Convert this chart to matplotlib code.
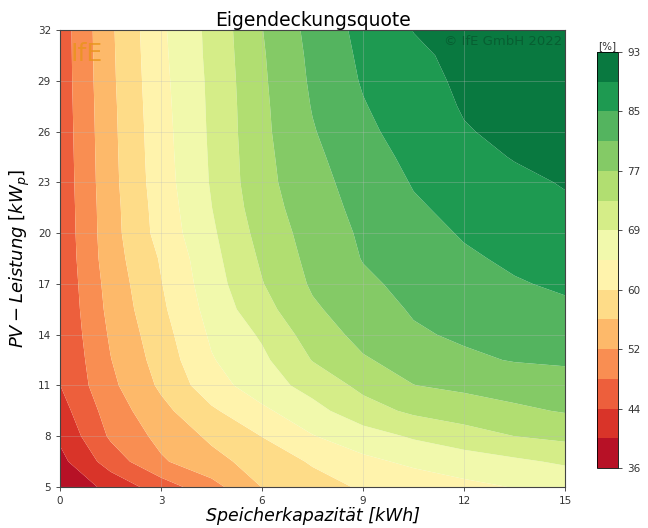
import numpy as np
import matplotlib
matplotlib.use("Agg")
import matplotlib.pyplot as plt

# Speicherkapazität [kWh] und PV-Leistung [kWp] des Rasters
speicher = [0, 1.5, 3, 4.5, 6, 7.5, 9, 10.5, 12, 13.5, 15]
pv = [5, 6.5, 8, 9.5, 11, 12.5, 14, 15.5, 17, 18.5, 20, 21.5, 23, 24.5, 26, 27.5, 29, 30.5, 32]

# Eigendeckungsquote [%], eine Zeile je PV-Leistung
quote = [
    [36.5, 41.35, 46.15, 50.85, 56.45, 58.85, 60.9, 62.2, 63.55, 64.65, 65.2],
    [38.9, 46.0, 51.75, 55.1, 58.05, 60.85, 63.55, 65.3, 66.55, 67.8, 69.2],
    [40.8, 48.8, 53.45, 57.1, 60.5, 64.3, 66.8, 69.05, 70.9, 72.65, 73.6],
    [42.5, 50.05, 55.2, 59.8, 63.7, 67.25, 71.0, 73.4, 74.7, 76.0, 77.0],
    [44.1, 51.35, 57.05, 62.75, 66.7, 70.0, 73.65, 76.65, 77.55, 78.35, 79.2],
    [44.3, 52.15, 58.05, 64.2, 67.75, 72.8, 76.3, 78.3, 80.1, 81.0, 81.3],
    [44.6, 52.8, 58.8, 65.1, 69.1, 74.5, 77.95, 80.3, 81.35, 82.0, 82.7],
    [44.8, 53.45, 59.65, 66.0, 71.15, 76.1, 79.0, 81.15, 82.15, 83.2, 84.2],
    [45.0, 53.9, 60.25, 66.75, 72.45, 77.25, 80.1, 81.8, 83.2, 84.55, 85.4],
    [45.15, 54.5, 60.8, 67.3, 73.25, 77.9, 80.95, 82.6, 84.3, 85.5, 86.4],
    [45.3, 54.75, 61.95, 67.9, 74.1, 78.4, 81.35, 83.4, 85.2, 86.3, 87.4],
    [45.4, 54.85, 62.25, 68.5, 74.9, 78.95, 81.9, 84.4, 85.85, 87.1, 88.3],
    [45.5, 55.05, 62.65, 68.9, 75.45, 79.4, 82.5, 85.1, 86.6, 88.0, 89.2],
    [45.6, 55.15, 62.85, 69.05, 75.6, 79.9, 83.2, 85.8, 87.6, 89.15, 89.9],
    [45.7, 55.25, 63.0, 69.2, 75.8, 80.5, 84.0, 86.5, 88.7, 89.7, 90.5],
    [45.8, 55.35, 63.2, 69.3, 75.9, 81.0, 84.6, 87.2, 89.2, 90.1, 91.0],
    [45.9, 55.5, 63.4, 69.4, 76.1, 81.4, 85.2, 87.8, 89.5, 90.4, 91.4],
    [45.95, 55.6, 63.6, 69.6, 76.3, 81.7, 85.6, 88.35, 89.7, 90.7, 91.7],
    [46.0, 55.7, 63.8, 69.7, 76.6, 82.1, 86.0, 89.0, 90.0, 91.0, 92.0],
]

q_min, q_max, n_stufen = 36, 93, 14
x_ticks = [0, 3, 6, 9, 12, 15]
y_ticks = [5, 8, 11, 14, 17, 20, 23, 26, 29, 32]

levels = np.linspace(q_min, q_max, n_stufen + 1)

fig = plt.figure(figsize=(6.48, 5.28), dpi=100)
ax = fig.add_axes([0.0926, 0.0777, 0.7794, 0.8653])
cax = fig.add_axes([0.921, 0.1136, 0.033, 0.788])

X, Y = np.meshgrid(speicher, pv)
cs = ax.contourf(X, Y, np.array(quote), levels=levels, cmap="RdYlGn", antialiased=True)

ax.set_xlim(0, 15)
ax.set_ylim(5, 32)
ax.set_xticks(x_ticks)
ax.set_yticks(y_ticks)
ax.tick_params(labelsize=7.5, colors="#333333", length=3, width=0.6)
ax.grid(True, color="#bbbbbb", alpha=0.35, linewidth=0.6)
for s in ax.spines.values():
    s.set_linewidth(0.8)
    s.set_color("#444444")

ax.set_title("Eigendeckungsquote", fontsize=13.5, pad=3)
ax.set_xlabel("Speicherkapazität [kWh]", fontsize=12.5, style="italic", labelpad=1)
ax.set_ylabel(r"$PV-Leistung\ [kW_p]$", fontsize=13, labelpad=4)

# Logo und Copyright
ax.text(0.02, 0.975, "IfE", transform=ax.transAxes, fontsize=18, color="#e89418",
        alpha=0.75, ha="left", va="top")
ax.text(0.995, 0.99, "© IfE GmbH 2022", transform=ax.transAxes, fontsize=9.5,
        color="black", alpha=0.22, ha="right", va="top")

cb = fig.colorbar(cs, cax=cax, ticks=levels[::2])
cb.ax.set_yticklabels(["%.0f" % v for v in levels[::2]])
cb.ax.minorticks_off()
cb.ax.tick_params(labelsize=7.5, colors="#333333", length=3, width=0.6)
cb.outline.set_linewidth(0.6)
cb.ax.set_title("[%]", fontsize=7.5, pad=2, color="#333333")

fig.savefig("out.png", dpi=100)
